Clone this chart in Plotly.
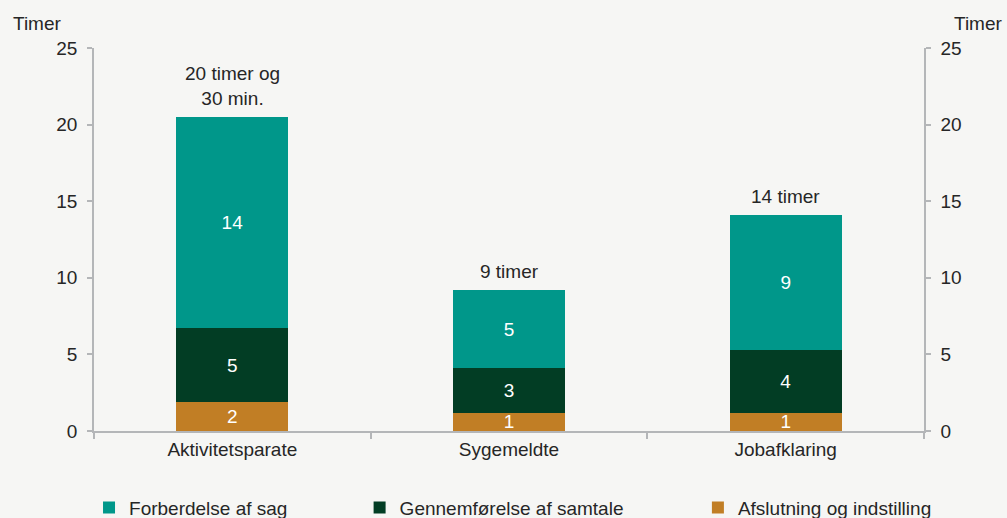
import plotly.graph_objects as go

categories = ["Aktivitetsparate", "Sygemeldte", "Jobafklaring"]
afslutning = [1.9, 1.2, 1.2]
gennemfoersel = [4.8, 2.9, 4.1]
forberedelse = [13.8, 5.1, 8.8]
total_labels = ["20 timer og<br>30 min.", "9 timer", "14 timer"]
series_names = ["Forberdelse af sag", "Gennemførelse af samtale", "Afslutning og indstilling"]
y_ticks = [0, 5, 10, 15, 20, 25]

FONT = "Liberation Sans, Arial, sans-serif"
FS = 19
TXT = "#262626"
BG = "#f6f6f4"
AXC = "#b4b6b8"
colors = {"teal": "#00978a", "dark": "#023d24", "orange": "#c17e25"}

fig = go.Figure()
bar_common = dict(texttemplate="%{y:.0f}", textposition="inside", insidetextanchor="middle",
                  textangle=0, constraintext="none",
                  textfont=dict(color="white", size=FS, family=FONT), width=0.405)
fig.add_trace(go.Bar(x=categories, y=afslutning, name=series_names[2],
                     marker=dict(color=colors["orange"], line=dict(width=0)),
                     legend="legend3", **bar_common))
fig.add_trace(go.Bar(x=categories, y=gennemfoersel, name=series_names[1],
                     marker=dict(color=colors["dark"], line=dict(width=0)),
                     legend="legend2", **bar_common))
fig.add_trace(go.Bar(x=categories, y=forberedelse, name=series_names[0],
                     marker=dict(color=colors["teal"], line=dict(width=0)),
                     legend="legend", **bar_common))

totals = [a + b + c for a, b, c in zip(afslutning, gennemfoersel, forberedelse)]
annotations = []
for cat, tot, lab in zip(categories, totals, total_labels):
    annotations.append(dict(x=cat, y=tot, xref="x", yref="y", text=lab, showarrow=False,
                            yanchor="bottom", yshift=6, font=dict(size=FS, color=TXT, family=FONT)))
annotations.append(dict(x=-0.1, y=1.0, xref="paper", yref="paper", text="Timer", showarrow=False,
                        xanchor="left", yanchor="bottom", yshift=12, font=dict(size=FS, color=TXT, family=FONT)))
annotations.append(dict(x=1.0975, y=1.0, xref="paper", yref="paper", text="Timer", showarrow=False,
                        xanchor="right", yanchor="bottom", yshift=12, font=dict(size=FS, color=TXT, family=FONT)))

legend_common = dict(orientation="h", yref="container", yanchor="middle", y=0.02, xanchor="left",
                     bgcolor="rgba(0,0,0,0)", font=dict(size=FS, color=TXT, family=FONT),
                     itemwidth=30, tracegroupgap=0)

fig.update_layout(
    barmode="stack",
    width=1007, height=518,
    margin=dict(l=94, r=83, t=48, b=87),
    paper_bgcolor=BG, plot_bgcolor=BG,
    font=dict(family=FONT, size=FS, color=TXT),
    showlegend=True,
    legend=dict(x=-0.006, **legend_common),
    legend2=dict(x=0.32, **legend_common),
    legend3=dict(x=0.7276, **legend_common),
    annotations=annotations,
    xaxis=dict(showline=True, linecolor=AXC, linewidth=1.5, ticks="outside", tickson="boundaries",
               ticklen=6, tickcolor=AXC, tickwidth=1.5, showgrid=False, zeroline=False,
               tickfont=dict(size=FS, color=TXT, family=FONT)),
    yaxis=dict(range=[0, 25], tickvals=y_ticks, showline=True, linecolor=AXC, linewidth=1.5,
               ticks="outside", ticklen=5, tickcolor=AXC, tickwidth=1.5, showgrid=False,
               zeroline=False, ticklabelstandoff=6, tickfont=dict(size=FS, color=TXT, family=FONT)),
    yaxis2=dict(range=[0, 25], tickvals=y_ticks, overlaying="y", side="right", showline=True,
                linecolor=AXC, linewidth=1.5, ticks="outside", ticklen=5, tickcolor=AXC, tickwidth=1.5,
                showgrid=False, zeroline=False, ticklabelstandoff=6,
                tickfont=dict(size=FS, color=TXT, family=FONT)),
)
fig.add_trace(go.Scatter(x=categories, y=totals, yaxis="y2", mode="markers",
                         marker=dict(opacity=0), showlegend=False, hoverinfo="skip"))

fig.write_html("out.html", config={"displayModeBar": False},
               post_script="document.body.style.margin='0';document.body.style.overflow='hidden';")
